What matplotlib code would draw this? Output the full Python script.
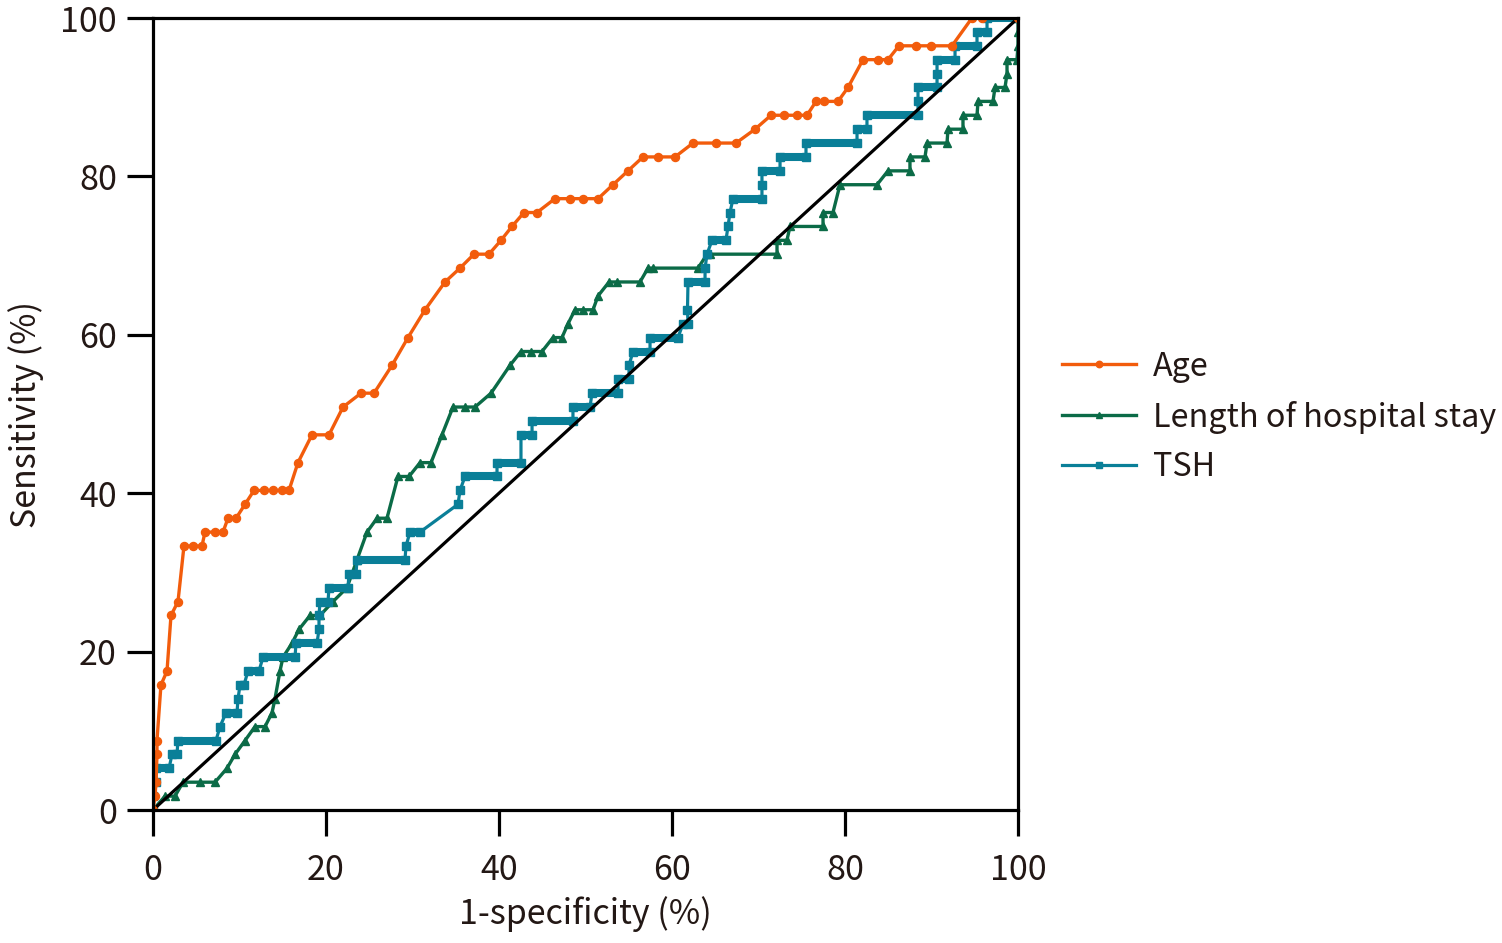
import matplotlib
matplotlib.use("Agg")
import matplotlib.pyplot as plt

plt.rcParams['font.family'] = ['Noto Sans CJK JP', 'DejaVu Sans']

# ROC points (1-specificity %, sensitivity %)
age_fpr = [0, 0.23, 0.35, 0.46, 0.46, 0.92, 1.62, 2.08, 2.89, 3.58, 4.62, 5.66, 6.01, 7.17, 8.09,
           8.67, 9.60, 10.64, 11.68, 12.83, 13.87, 14.91, 15.72, 16.76, 18.38, 20.35, 21.97, 24.05,
           25.55, 27.63, 29.48, 31.45, 33.76, 35.49, 37.11, 38.84, 40.23, 41.50, 42.89, 44.39, 46.47,
           48.21, 49.71, 51.45, 53.18, 54.91, 56.65, 58.38, 60.35, 62.43, 65.09, 67.40, 69.60, 71.45,
           72.95, 74.45, 75.61, 76.65, 77.57, 79.19, 80.35, 82.08, 83.82, 84.97, 86.24, 88.21, 89.94,
           92.37, 94.68, 95.84, 100]
age_tpr = [0, 1.75, 3.51, 7.02, 8.77, 15.79, 17.54, 24.56, 26.32, 33.33, 33.33, 33.33, 35.09, 35.09,
           35.09, 36.84, 36.84, 38.60, 40.35, 40.35, 40.35, 40.35, 40.35, 43.86, 47.37, 47.37, 50.88,
           52.63, 52.63, 56.14, 59.65, 63.16, 66.67, 68.42, 70.18, 70.18, 71.93, 73.68, 75.44, 75.44,
           77.19, 77.19, 77.19, 77.19, 78.95, 80.70, 82.46, 82.46, 82.46, 84.21, 84.21, 84.21, 85.96,
           87.72, 87.72, 87.72, 87.72, 89.47, 89.47, 89.47, 91.23, 94.74, 94.74, 94.74, 96.49, 96.49,
           96.49, 96.49, 100, 100, 100]

los_fpr = [0, 1.39, 2.54, 3.47, 5.43, 7.17, 8.55, 9.48, 10.64, 11.79, 12.95, 13.76, 14.10, 14.68,
           15.03, 16.07, 16.88, 18.15, 19.31, 20.81, 22.43, 23.58, 24.74, 25.90, 27.05, 28.32, 29.60,
           30.87, 32.14, 33.41, 34.68, 36.07, 37.23, 39.08, 41.27, 42.54, 43.70, 44.97, 46.24, 47.28,
           47.98, 48.79, 49.71, 50.87, 51.45, 52.72, 53.64, 56.30, 57.23, 57.80, 63.01, 64.05, 64.39,
           72.14, 72.14, 73.29, 73.64, 77.46, 77.46, 78.61, 79.42, 83.70, 84.97, 87.51, 87.51, 89.25,
           89.48, 91.79, 91.91, 93.64, 93.64, 95.26, 95.38, 97.11, 97.34, 98.50, 98.73, 98.73, 99.88,
           100, 100, 100]
los_tpr = [0, 1.75, 1.75, 3.51, 3.51, 3.51, 5.26, 7.02, 8.77, 10.53, 10.53, 12.28, 14.04, 17.54,
           19.30, 21.05, 22.81, 24.56, 24.56, 26.32, 28.07, 31.58, 35.09, 36.84, 36.84, 42.11, 42.11,
           43.86, 43.86, 47.37, 50.88, 50.88, 50.88, 52.63, 56.14, 57.89, 57.89, 57.89, 59.65, 59.65,
           61.40, 63.16, 63.16, 63.16, 64.91, 66.67, 66.67, 66.67, 68.42, 68.42, 68.42, 70.18, 70.18,
           70.18, 71.93, 71.93, 73.68, 73.68, 75.44, 75.44, 78.95, 78.95, 80.70, 80.70, 82.46, 82.46,
           84.21, 84.21, 85.96, 85.96, 87.72, 87.72, 89.47, 89.47, 91.23, 91.23, 92.98, 94.74, 94.74,
           96.49, 98.25, 100]

tsh_fpr = [0, 0, 0.35, 0.35, 1.85, 2.20, 2.77, 2.89, 7.28, 7.75, 8.44, 9.71, 9.83, 10.06, 10.52,
           10.98, 12.25, 12.72, 16.42, 16.53, 18.96, 19.19, 19.19, 19.31, 20.23, 20.35, 22.54, 22.66,
           23.47, 23.58, 29.13, 29.25, 29.71, 30.87, 35.26, 35.49, 36.07, 39.77, 39.77, 42.54, 42.54,
           43.82, 43.82, 48.55, 48.55, 50.52, 50.75, 53.76, 53.76, 55.03, 55.03, 55.49, 57.46, 57.46,
           60.69, 61.27, 61.85, 61.79, 61.85, 63.82, 63.82, 64.05, 64.62, 66.24, 66.47, 66.71, 67.05,
           70.40, 70.40, 70.40, 72.49, 72.49, 75.49, 75.49, 81.39, 81.39, 82.54, 82.54, 88.44, 88.44,
           88.44, 90.64, 90.64, 90.64, 92.72, 92.72, 95.26, 95.26, 96.42, 96.42, 100]
tsh_tpr = [0, 1.75, 3.51, 5.26, 5.26, 7.02, 7.02, 8.77, 8.77, 10.53, 12.28, 12.28, 14.04, 15.79,
           15.79, 17.54, 17.54, 19.30, 19.30, 21.05, 21.05, 22.81, 24.56, 26.32, 26.32, 28.07, 28.07,
           29.82, 29.82, 31.58, 31.58, 33.33, 35.09, 35.09, 38.60, 40.35, 42.11, 42.11, 43.86, 43.86,
           47.37, 47.37, 49.12, 49.12, 50.88, 50.88, 52.63, 52.63, 54.39, 54.39, 56.14, 57.89, 57.89,
           59.65, 59.65, 61.40, 61.40, 63.16, 66.67, 66.67, 68.42, 70.18, 71.93, 71.93, 73.68, 75.44,
           77.19, 77.19, 78.95, 80.70, 80.70, 82.46, 82.46, 84.21, 84.21, 85.96, 85.96, 87.72, 87.72,
           89.47, 91.23, 91.23, 92.98, 94.74, 94.74, 96.49, 96.49, 98.25, 98.25, 100, 100]

labels = ["Age", "Length of hospital stay", "TSH"]
c_age = "#F25C0C"
c_los = "#0B6B47"
c_tsh = "#0A7F98"
txt = "#231815"

fig = plt.figure(figsize=(15.02, 9.43), dpi=100)
ax = fig.add_axes([153 / 1502, 1 - 810 / 943, 865 / 1502, 792 / 943])

# reference line
ax.plot([0, 100], [0, 100], color="black", lw=2.3, zorder=5)

ax.plot(los_fpr, los_tpr, color=c_los, lw=2.4, marker="^", ms=5.2, label=labels[1], zorder=3)

# TSH: flat runs are packed with markers in the original, draw them as thick bars
ax.plot(tsh_fpr, tsh_tpr, color=c_tsh, lw=2.3, marker="s", ms=5.8, label=labels[2], zorder=4)
for i in range(len(tsh_fpr) - 1):
    if tsh_tpr[i] == tsh_tpr[i + 1] and tsh_fpr[i + 1] > tsh_fpr[i]:
        ax.plot([tsh_fpr[i], tsh_fpr[i + 1]], [tsh_tpr[i], tsh_tpr[i + 1]], color=c_tsh,
                lw=5.8, solid_capstyle="butt", zorder=4)

ax.plot(age_fpr, age_tpr, color=c_age, lw=2.4, marker="o", ms=5.8, label=labels[0], zorder=6)

ax.set_xlim(0, 100)
ax.set_ylim(0, 100)
ax.set_xticks(range(0, 101, 20))
ax.set_yticks(range(0, 101, 20))
for s in ax.spines.values():
    s.set_linewidth(2.3)
    s.set_zorder(7)
ax.tick_params(axis="both", direction="out", length=19, width=2.3, labelsize=24.5, colors="black",
               labelcolor=txt)
ax.tick_params(axis="y", pad=7)
ax.tick_params(axis="x", pad=12)
ax.set_xlabel("1-specificity (%)", fontsize=24.5, color=txt, labelpad=6)
ax.set_ylabel("Sensitivity (%)", fontsize=24.5, color=txt, labelpad=12)

h, l = ax.get_legend_handles_labels()
order = [l.index(n) for n in labels]
leg = fig.legend([h[i] for i in order], [l[i] for i in order], loc="center left",
                 bbox_to_anchor=(1062 / 1502, 1 - 417 / 943), frameon=False, fontsize=23.3,
                 handlelength=2.3, handletextpad=0.5, labelspacing=0.55, borderpad=0,
                 borderaxespad=0, markerscale=0.8)
for t in leg.get_texts():
    t.set_color(txt)

fig.savefig("out.png", dpi=100)
